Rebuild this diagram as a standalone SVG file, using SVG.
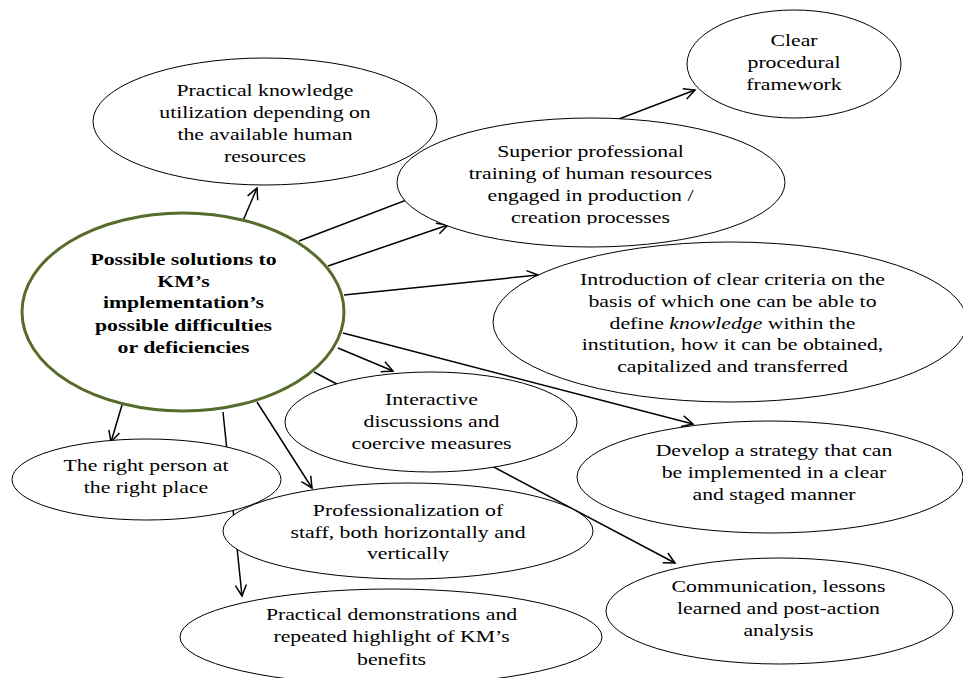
<svg xmlns="http://www.w3.org/2000/svg" width="963" height="678" viewBox="0 0 963 678">
<style>
text{font-family:"Liberation Serif","Times New Roman",serif;font-size:17px;fill:#000;text-anchor:middle}
.b{font-weight:bold}
.n{fill:#fff;stroke:#000;stroke-width:1}
.c{fill:#fff;stroke:#566b2c;stroke-width:3}
.e{stroke:#000;stroke-width:1.5;fill:none;marker-end:url(#ah)}
</style>
<defs>
<marker id="ah" markerUnits="userSpaceOnUse" markerWidth="16" markerHeight="14" refX="12" refY="6" orient="auto" viewBox="0 0 16 12">
<path d="M1,0.5 L12,6 L1,11.5" fill="none" stroke="#000" stroke-width="1.5"/>
</marker>
<clipPath id="cs"><rect x="380" y="100" width="420" height="124.5"/></clipPath>
<clipPath id="ci"><rect x="480" y="230" width="483" height="144.5"/></clipPath>
<clipPath id="cp"><rect x="210" y="470" width="400" height="91.5"/></clipPath>
</defs>
<rect width="963" height="678" fill="#fff"/>
<g id="connectors">
<line class="e" x1="242" y1="223" x2="257" y2="188"/>
<line class="e" x1="299" y1="241" x2="695" y2="90"/>
<line class="e" x1="328" y1="266" x2="448" y2="225"/>
<line class="e" x1="344" y1="295" x2="538" y2="275"/>
<line class="e" x1="343" y1="333" x2="693" y2="424"/>
<line class="e" x1="338" y1="348" x2="393" y2="371"/>
<line class="e" x1="314" y1="372" x2="675" y2="563"/>
<line class="e" x1="122" y1="405" x2="111" y2="442"/>
<line class="e" x1="223" y1="412" x2="242" y2="596"/>
<line class="e" x1="257" y1="402" x2="312" y2="488"/>
</g>
<g id="n-practical-knowledge">
<ellipse class="n" cx="265" cy="121.5" rx="172" ry="63.5"/>
<g transform="translate(265,0) scale(1.28,1)">
<text x="0" y="96.5">Practical knowledge</text>
<text x="0" y="118.5">utilization depending on</text>
<text x="0" y="140.5">the available human</text>
<text x="0" y="162.5">resources</text>
</g>
</g>
<g id="n-clear">
<ellipse class="n" cx="794" cy="64" rx="107" ry="54"/>
<g transform="translate(794,0) scale(1.28,1)">
<text x="0" y="46">Clear</text>
<text x="0" y="68">procedural</text>
<text x="0" y="90">framework</text>
</g>
</g>
<g id="n-superior">
<ellipse class="n" cx="591" cy="182.5" rx="194" ry="64.5"/>
<g clip-path="url(#cs)">
<g transform="translate(590.5,0) scale(1.28,1)">
<text x="0" y="157">Superior professional</text>
<text x="0" y="179">training of human resources</text>
<text x="0" y="201.5">engaged in production /</text>
<text x="0" y="223">creation processes</text>
</g>
</g>
</g>
<g id="n-introduction">
<ellipse class="n" cx="730" cy="322" rx="237" ry="80"/>
<g clip-path="url(#ci)">
<g transform="translate(732.5,0) scale(1.28,1)">
<text x="0" y="285">Introduction of clear criteria on the</text>
<text x="0" y="307">basis of which one can be able to</text>
<text x="0" y="329">define <tspan font-style="italic">knowledge</tspan> within the</text>
<text x="0" y="350.5">institution, how it can be obtained,</text>
<text x="0" y="372.5">capitalized and transferred</text>
</g>
</g>
</g>
<g id="n-interactive">
<ellipse class="n" cx="431" cy="422" rx="146" ry="50"/>
<g transform="translate(431.5,0) scale(1.28,1)">
<text x="0" y="405.5">Interactive</text>
<text x="0" y="427.5">discussions and</text>
<text x="0" y="449.5">coercive measures</text>
</g>
</g>
<g id="n-develop">
<ellipse class="n" cx="770" cy="477" rx="193" ry="56"/>
<g transform="translate(774,0) scale(1.28,1)">
<text x="0" y="456">Develop a strategy that can</text>
<text x="0" y="478">be implemented in a clear</text>
<text x="0" y="500">and staged manner</text>
</g>
</g>
<g id="n-right-person">
<ellipse class="n" cx="146.5" cy="479.5" rx="134.5" ry="40.5"/>
<g transform="translate(146,0) scale(1.28,1)">
<text x="0" y="471">The right person at</text>
<text x="0" y="493">the right place</text>
</g>
</g>
<g id="n-professionalization">
<ellipse class="n" cx="408" cy="531" rx="185" ry="48"/>
<g clip-path="url(#cp)">
<g transform="translate(408,0) scale(1.28,1)">
<text x="0" y="516">Professionalization of</text>
<text x="0" y="538">staff, both horizontally and</text>
<text x="0" y="559.5">vertically</text>
</g>
</g>
</g>
<g id="n-demonstrations">
<ellipse class="n" cx="391" cy="637" rx="211" ry="48"/>
<g transform="translate(391.5,0) scale(1.28,1)">
<text x="0" y="620">Practical demonstrations and</text>
<text x="0" y="642.5">repeated highlight of KM’s</text>
<text x="0" y="665">benefits</text>
</g>
</g>
<g id="n-communication">
<ellipse class="n" cx="779.5" cy="611" rx="173.5" ry="53"/>
<g transform="translate(778.5,0) scale(1.28,1)">
<text x="0" y="592">Communication, lessons</text>
<text x="0" y="614">learned and post-action</text>
<text x="0" y="636.5">analysis</text>
</g>
</g>
<g id="n-central">
<ellipse class="c" cx="183" cy="312" rx="161" ry="99"/>
<g transform="translate(183.5,0) scale(1.28,1)">
<text class="b" x="0" y="265">Possible solutions to</text>
<text class="b" x="0" y="287">KM’s</text>
<text class="b" x="0" y="308.5">implementation’s</text>
<text class="b" x="0" y="331">possible difficulties</text>
<text class="b" x="0" y="353">or deficiencies</text>
</g>
</g>
</svg>
